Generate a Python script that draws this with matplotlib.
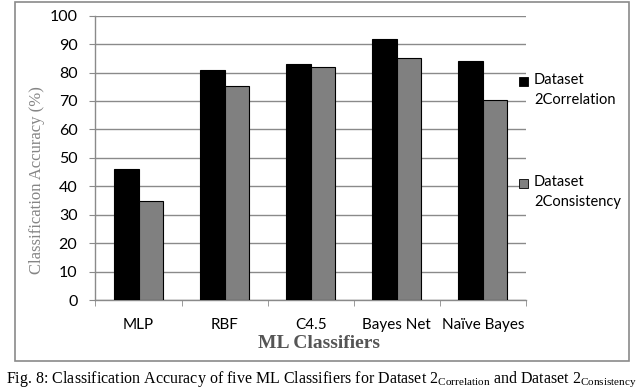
import matplotlib
matplotlib.use("Agg")
import matplotlib.pyplot as plt
from matplotlib.patches import Rectangle
import numpy as np

plt.rcParams['mathtext.fontset'] = 'custom'
plt.rcParams['mathtext.rm'] = 'Liberation Serif'

categories = ["MLP", "RBF", "C4.5", "Bayes Net", "Naïve Bayes"]
series_names = ["Dataset\n2Correlation", "Dataset\n2Consistency"]
correlation = [46.2, 80.8, 83.1, 91.7, 84.2]
consistency = [34.8, 75.3, 81.8, 85.1, 70.3]
y_ticks = [0, 10, 20, 30, 40, 50, 60, 70, 80, 90, 100]
colors = ["#000000", "#808080"]

W, H = 642, 392
fig = plt.figure(figsize=(W / 100, H / 100), dpi=100)

ax = fig.add_axes([95.5 / W, 1 - 300 / H, (526 - 95.5) / W, (300 - 15.7) / H])
x = np.arange(len(categories))
bw = 0.285
for i, (vals, c) in enumerate(zip([correlation, consistency], colors)):
    ax.bar(x + (i - 0.5) * bw, vals, width=bw, color=c, edgecolor="black",
           linewidth=0.8, zorder=3)

ax.set_xlim(-0.5, len(categories) - 0.5)
ax.set_ylim(0, 100)
ax.set_yticks(y_ticks)
ax.yaxis.grid(True, color="#8a8a8a", linewidth=1.0, zorder=0)
for s in ["top", "right"]:
    ax.spines[s].set_visible(False)
ax.spines["left"].set_color("#8a8a8a")
ax.spines["bottom"].set_color("#8a8a8a")
ax.spines["left"].set_linewidth(1.0)
ax.spines["bottom"].set_linewidth(1.0)

tickfont = "Lato"
ax.set_xticks(x)
ax.set_xticklabels(categories, fontfamily=tickfont, fontsize=11)
ax.set_xticks(np.arange(len(categories) + 1) - 0.5, minor=True)
ax.tick_params(axis="x", which="major", length=0, pad=13)
ax.tick_params(axis="x", which="minor", length=4, color="#8a8a8a", direction="out")
ax.tick_params(axis="y", length=4, color="#8a8a8a", pad=9)
for lab in ax.get_yticklabels():
    lab.set_fontfamily(tickfont)
    lab.set_fontsize(11.5)

fig.text(37 / W, 1 - 180 / H, "Classification Accuracy (%)", fontfamily="Liberation Serif",
         fontsize=12, color="#858585", rotation=90, ha="center", va="center")

fig.text(319 / W, 1 - 344 / H, "ML Classifiers", fontfamily="Liberation Serif",
         fontweight="bold", fontsize=14, color="#555555", ha="center", va="center")

# legend (manual, handle aligned with first text line)
leg_y = [81, 183]
for name, c, yy in zip(series_names, colors, leg_y):
    fig.patches.append(Rectangle((519 / W, 1 - (yy + 4.5) / H), 9 / W, 9 / H,
                                 transform=fig.transFigure, facecolor=c,
                                 edgecolor="black", linewidth=0.6))
    fig.text(534 / W, 1 - (yy - 8) / H, name, fontfamily=tickfont, fontsize=10.5,
             ha="left", va="top", linespacing=1.55)

# outer frame
fig.patches.append(Rectangle((15 / W, 1 - 361 / H), (629 - 15) / W, (361 - 1.5) / H,
                             transform=fig.transFigure, fill=False,
                             edgecolor="#8a8a8a", linewidth=1.2))

fig.text(0.5, 1 - 379 / H,
         r"Fig. 8: Classification Accuracy of five ML Classifiers for Dataset 2$_{\mathrm{Correlation}}$ and Dataset 2$_{\mathrm{Consistency}}$",
         fontfamily="Liberation Serif", fontsize=11.5, ha="center", va="center")

fig.savefig("out.png", dpi=100)
